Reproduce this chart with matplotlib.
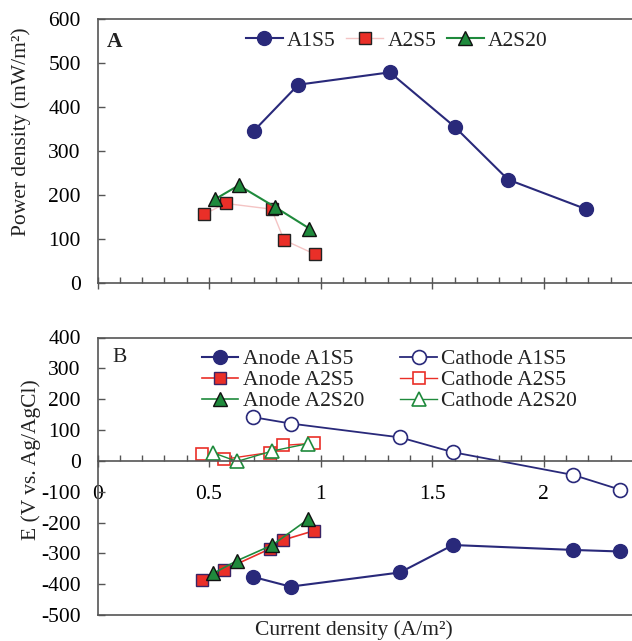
import matplotlib
matplotlib.use("Agg")
import matplotlib.pyplot as plt
from matplotlib.ticker import MultipleLocator

plt.rcParams['font.family'] = ['Liberation Serif', 'DejaVu Serif']
plt.rcParams['text.color'] = '#222222'
plt.rcParams['axes.unicode_minus'] = False

# ---- data ----
# panel A: power density (mW/m2) vs current density (A/m2)
x_pd_a1s5 = [0.70, 0.90, 1.31, 1.60, 1.84, 2.19]
pd_a1s5 = [345, 450, 478, 355, 235, 168]
x_pd_a2s5 = [0.476, 0.574, 0.78, 0.836, 0.974]
pd_a2s5 = [156, 181, 168, 98, 66]
x_pd_a2s20 = [0.525, 0.633, 0.795, 0.95]
pd_a2s20 = [190, 222, 173, 124]

# panel B: electrode potentials (mV vs Ag/AgCl)
x_e_a1s5 = [0.695, 0.865, 1.356, 1.593, 2.133, 2.34]
anode_a1s5 = [-376, -408, -362, -273, -289, -294]
cathode_a1s5 = [142, 121, 76, 28, -46, -93]
x_e_a2s5 = [0.467, 0.566, 0.771, 0.831, 0.969]
anode_a2s5 = [-385, -354, -286, -257, -227]
cathode_a2s5 = [21, 5, 27, 50, 57]
x_e_a2s20 = [0.519, 0.625, 0.784, 0.945]
anode_a2s20 = [-365, -324, -273, -189]
cathode_a2s20 = [26, -2, 32, 56]

navy = '#29297a'
red = '#ea2f28'
green = '#1f8a3c'
pink = '#f4c4c4'
spine_c = '#555555'
fs = 15.5

W, H = 632, 641
fig = plt.figure(figsize=(W / 100, H / 100), dpi=100)


def px_axes(left, top, right, bottom):
    return fig.add_axes([left / W, 1 - bottom / H, (right - left) / W, (bottom - top) / H])


ax1 = px_axes(97.5, 18.5, 633, 283.3)
ax2 = px_axes(97.5, 337.5, 633, 615)

for ax in (ax1, ax2):
    for s in ax.spines.values():
        s.set_color(spine_c)
        s.set_linewidth(1.2)
    ax.set_xlim(0, 2.4)
    ax.xaxis.set_major_locator(MultipleLocator(0.5))
    ax.xaxis.set_minor_locator(MultipleLocator(0.1))
    ax.tick_params(axis='x', which='major', direction='inout', length=9, width=1, color=spine_c,
                   top=False, labelsize=fs, pad=13)
    ax.tick_params(axis='x', which='minor', direction='in', length=4, width=1, color=spine_c, top=False)
    ax.tick_params(axis='y', which='major', direction='in', length=5, width=1, color=spine_c,
                   right=False, labelsize=fs, pad=12)

# ---- panel A ----
ax1.plot(x_pd_a1s5, pd_a1s5, '-o', color=navy, lw=1.5, ms=10, mfc=navy, mec=navy, label='A1S5')
ax1.plot(x_pd_a2s5, pd_a2s5, '-s', color=pink, lw=1.0, ms=9, mfc=red, mec='#222222', mew=1,
         label='A2S5')
ax1.plot(x_pd_a2s20, pd_a2s20, '-^', color=green, lw=1.5, ms=10, mfc=green, mec='#111111', mew=1,
         label='A2S20')
ax1.set_ylim(0, 600)
ax1.yaxis.set_major_locator(MultipleLocator(100))
ax1.tick_params(axis='x', which='major', labelbottom=False)
ax1.text(115 / W, 1 - 42 / H, 'A', transform=fig.transFigure, fontsize=fs, fontweight='bold',
         ha='center', va='center')
ax1.legend(loc='center left', bbox_to_anchor=((246 - 97.5) / 535.5, (283.3 - 41) / 264.8),
           ncol=3, frameon=False, fontsize=fs, borderpad=0, borderaxespad=0,
           handlelength=1.7, handletextpad=0.2, columnspacing=0.5)

# ---- panel B ----
ax2.plot(x_e_a1s5, anode_a1s5, '-o', color=navy, lw=1.5, ms=10, mfc=navy, mec=navy,
         label='Anode A1S5')
ax2.plot(x_e_a2s5, anode_a2s5, '-s', color=red, lw=1.2, ms=9, mfc=red, mec='#3a2465', mew=1,
         label='Anode A2S5')
ax2.plot(x_e_a2s20, anode_a2s20, '-^', color=green, lw=1.2, ms=10, mfc=green, mec='#111111', mew=1,
         label='Anode A2S20')
ax2.plot(x_e_a1s5, cathode_a1s5, '-o', color=navy, lw=1.3, ms=10, mfc='white', mec=navy, mew=1.2,
         label='Cathode A1S5')
ax2.plot(x_e_a2s5, cathode_a2s5, '-s', color=red, lw=1.0, ms=9, mfc='white', mec=red, mew=1.2,
         label='Cathode A2S5')
ax2.plot(x_e_a2s20, cathode_a2s20, '-^', color=green, lw=1.0, ms=10, mfc='white', mec=green, mew=1.2,
         label='Cathode A2S20')
ax2.set_ylim(-500, 400)
ax2.yaxis.set_major_locator(MultipleLocator(100))
ax2.spines['bottom'].set_position(('data', 0))
ax2.axhline(-500, color=spine_c, lw=1.2, clip_on=False)
ax2.set_xticks([0, 0.5, 1, 1.5, 2])
ax2.set_xticklabels(['0', '0.5', '1', '1.5', '2'])
ax2.text(120 / W, 1 - 358 / H, 'B', transform=fig.transFigure, fontsize=fs, ha='center', va='center')
ax2.legend(loc='upper left', bbox_to_anchor=((201.6 - 97.5) / 535.5, (615 - 349) / 277.5),
           ncol=2, frameon=False, fontsize=fs, borderpad=0, borderaxespad=0,
           handlelength=1.7, handletextpad=0.2, columnspacing=1.7, labelspacing=0.05)

# ---- axis titles ----
fig.text(21 / W, 1 - 132 / H, 'Power density (mW/m²)', rotation=90, fontsize=fs,
         ha='center', va='center')
fig.text(31 / W, 1 - 460 / H, 'E (V vs. Ag/AgCl)', rotation=90, fontsize=fs,
         ha='center', va='center')
fig.text(354 / W, 1 - 630 / H, 'Current density (A/m²)', fontsize=fs, ha='center', va='center')

fig.savefig('out.png', dpi=100)
